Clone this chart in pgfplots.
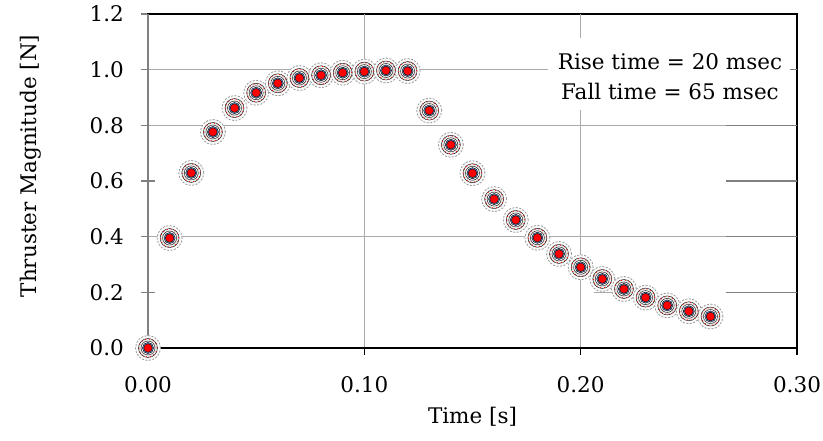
\documentclass[border=0pt]{standalone}
\usepackage{fontspec}
\setmainfont{DejaVu Serif}
\usepackage{pgfplots}
\pgfplotsset{compat=1.18}
\usepackage{pgfplotstable}
\definecolor{gridgray}{RGB}{170,170,170}
\definecolor{axgray}{RGB}{128,128,128}
\definecolor{mblue}{RGB}{110,158,222}
\pgfplotstableread{
t f
0.00 0.000
0.01 0.395
0.02 0.629
0.03 0.776
0.04 0.862
0.05 0.917
0.06 0.951
0.07 0.970
0.08 0.980
0.09 0.989
0.10 0.993
0.11 0.997
0.12 0.995
0.13 0.853
0.14 0.730
0.15 0.628
0.16 0.535
0.17 0.460
0.18 0.396
0.19 0.338
0.20 0.290
0.21 0.248
0.22 0.212
0.23 0.181
0.24 0.153
0.25 0.132
0.26 0.113
}\thrust
\newcommand{\chartfont}{\fontsize{21.5}{30}\selectfont}
\begin{document}
\begin{tikzpicture}
\useasboundingbox (-148pt,-93pt) rectangle (675pt,348pt);
\begin{axis}[
  width=649pt, height=334pt, scale only axis,
  xmin=0, xmax=0.3, ymin=0, ymax=1.2,
  xtick={0,0.1,0.2,0.3},
  ytick={0,0.2,0.4,0.6,0.8,1.0,1.2},
  xtick pos=bottom, ytick pos=left,
  tick align=center, major tick length=14pt,
  x tick style={black, line width=1.2pt},
  y tick style={axgray, line width=1.2pt},
  axis line style={black, line width=1.5pt},
  tick label style={font=\chartfont},
  label style={font=\chartfont},
  xticklabel style={/pgf/number format/.cd, fixed, fixed zerofill, precision=2, assume math mode=true, /tikz/.cd, anchor=north, inner sep=0pt, yshift=-21pt},
  yticklabel style={/pgf/number format/.cd, fixed, fixed zerofill, precision=1, assume math mode=true, /tikz/.cd, anchor=east, inner sep=0pt, xshift=-17pt},
  scaled ticks=false,
  xlabel={Time [s]},
  ylabel={Thruster Magnitude [N]},
  xlabel style={at={([yshift=-69pt]axis description cs:0.5,0)}, anchor=center},
  ylabel style={at={([xshift=-117pt,yshift=15pt]axis description cs:0,0.5)}, anchor=center},
  clip=false,
]
% gridlines
\draw[gridgray, line width=1.3pt] (axis cs:0.1,0) -- (axis cs:0.1,1.2);
\draw[gridgray, line width=1.3pt] (axis cs:0.2,0) -- (axis cs:0.2,0.855);
\draw[gridgray, line width=1.3pt] (axis cs:0.2,1.114) -- (axis cs:0.2,1.2);
\draw[gridgray, line width=1.3pt] (axis cs:0,1.0) -- (axis cs:0.185,1.0);
\draw[axgray, line width=1.3pt] (axis cs:0.2968,1.0) -- (axis cs:0.3,1.0);
\draw[gridgray, line width=1.3pt] (axis cs:0,0.8) -- (axis cs:0.267,0.8);
\draw[axgray, line width=1.3pt] (axis cs:0.267,0.8) -- (axis cs:0.3,0.8);
\draw[axgray, line width=1.3pt] (axis cs:0.267,0.6) -- (axis cs:0.3,0.6);
\draw[gridgray, line width=1.3pt] (axis cs:0,0.4) -- (axis cs:0.267,0.4);
\draw[axgray, line width=1.3pt] (axis cs:0.267,0.4) -- (axis cs:0.3,0.4);
\draw[gridgray, line width=1.3pt] (axis cs:0.206,0.2) -- (axis cs:0.226,0.2);
\draw[axgray, line width=1.3pt] (axis cs:0.267,0.2) -- (axis cs:0.3,0.2);
% borders
\draw[axgray, line width=2pt] (axis cs:0,0) -- (axis cs:0,1.2);
\draw[black, line width=2.6pt] (axis cs:0,0) -- (axis cs:0.3,0);
% markers
\addplot[only marks, mark=*, mark size=12.5pt, mark options={fill=gray!4, draw=gray!80, line width=0.8pt, dash pattern=on 2pt off 1.5pt}] table[x=t, y=f] {\thrust};
\addplot[only marks, mark=*, mark size=9.5pt, mark options={fill=gray!16, draw=none}] table[x=t, y=f] {\thrust};
\addplot[only marks, mark=*, mark size=7pt, mark options={fill=gray!5, draw=none}] table[x=t, y=f] {\thrust};
\addplot[only marks, mark=o, mark size=9pt, mark options={draw=red, line width=0.7pt, dash pattern=on 1pt off 3pt}] table[x=t, y=f] {\thrust};
\addplot[only marks, mark=*, mark size=5.6pt, mark options={fill=mblue, draw=none}] table[x=t, y=f] {\thrust};
\addplot[only marks, mark=*, mark size=4.3pt, mark options={fill=red, draw=none}] table[x=t, y=f] {\thrust};
\node[align=center, font=\chartfont, inner sep=0pt] at (axis cs:0.2413,0.974) {Rise time = 20 msec\\Fall time = 65 msec};
\end{axis}
\end{tikzpicture}
\end{document}
